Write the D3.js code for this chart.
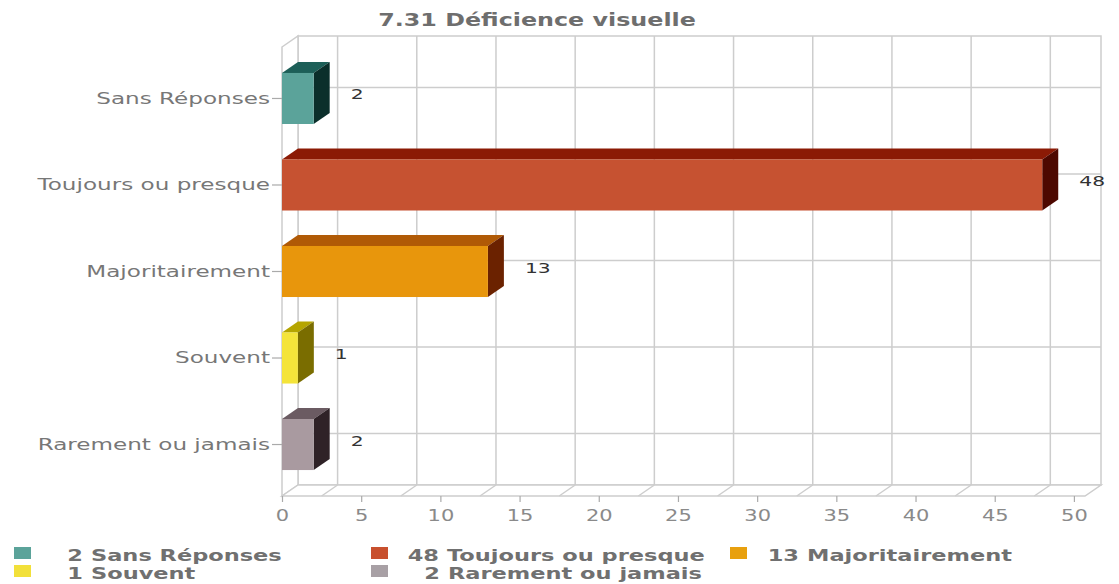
<!DOCTYPE html>
<html>
<head>
<meta charset="utf-8">
<script src="https://cdn.jsdelivr.net/npm/d3@7/dist/d3.min.js"></script>
<style>
  body { margin: 0; background: #fff; }
  svg { display: block; font-family: "DejaVu Sans", Verdana, sans-serif; }
</style>
</head>
<body>
<script>
// chart data
const categories = ['Sans Réponses', 'Toujours ou presque', 'Majoritairement', 'Souvent', 'Rarement ou jamais'];
const values = [2, 48, 13, 1, 2];
const xTicks = [0, 5, 10, 15, 20, 25, 30, 35, 40, 45, 50];
const gridValues = [2.5, 7.5, 12.5, 17.5, 22.5, 27.5, 32.5, 37.5, 42.5, 47.5];
const title = '7.31 Déficience visuelle';

// colours per bar: front, top, side
const frontColors = ['#5ba39a', '#c65231', '#e8960c', '#f4e43a', '#a99aa0'];
const topColors = ['#1d5f58', '#8b1a05', '#b05a06', '#b5a500', '#6b5b62'];
const sideColors = ['#0b2f2b', '#4d0800', '#6b2200', '#7a6d00', '#2f2227'];
const legendColors = ['#5ba39a', '#c8502e', '#e8a00e', '#f2e03a', '#a8a0a5'];

const W = 1119, H = 584;
const SX = 1.4; // the picture is stretched sideways
const DX = 16, DY = -11; // 3d depth

const svg = d3.select('body').append('svg').attr('width', W).attr('height', H);

const x = d3.scaleLinear().domain([0, 50.7]).range([282, 1085]);
const y = d3.scaleBand().domain(categories).range([47, 496])
    .paddingInner(0.41).paddingOuter(0.3);
const yTop = 47, yBottom = 496;

// title
svg.append('text')
    .attr('transform', `translate(537,26) scale(${SX},1)`)
    .attr('text-anchor', 'middle')
    .attr('font-size', 17)
    .attr('font-weight', 'bold')
    .attr('fill', '#6e6e6e')
    .text(title);

const gridColor = '#cdcdcd';

// back wall
svg.append('rect')
    .attr('x', x(0) + DX).attr('y', yTop + DY)
    .attr('width', x(50.7) - x(0)).attr('height', yBottom - yTop)
    .attr('fill', '#fff').attr('stroke', gridColor).attr('stroke-width', 1.5);

// left wall
svg.append('path')
    .attr('d', `M${x(0)},${yTop}L${x(0) + DX},${yTop + DY}L${x(0) + DX},${yBottom + DY}L${x(0)},${yBottom}Z`)
    .attr('fill', '#fff').attr('stroke', gridColor).attr('stroke-width', 1.5);

// floor
svg.append('path')
    .attr('d', `M${x(0)},${yBottom}L${x(50.7)},${yBottom}L${x(50.7) + DX},${yBottom + DY}L${x(0) + DX},${yBottom + DY}Z`)
    .attr('fill', '#fff').attr('stroke', gridColor).attr('stroke-width', 1.5);

// vertical grid lines on back wall + floor diagonals
svg.append('g').selectAll('line').data(gridValues).join('line')
    .attr('x1', d => x(d) + DX).attr('x2', d => x(d) + DX)
    .attr('y1', yTop + DY).attr('y2', yBottom + DY)
    .attr('stroke', gridColor).attr('stroke-width', 1.5);
svg.append('g').selectAll('line').data(gridValues).join('line')
    .attr('x1', d => x(d)).attr('x2', d => x(d) + DX)
    .attr('y1', yBottom).attr('y2', yBottom + DY)
    .attr('stroke', gridColor).attr('stroke-width', 1.5);

// horizontal grid lines on back wall
svg.append('g').selectAll('line').data(categories).join('line')
    .attr('x1', x(0) + DX).attr('x2', x(50.7) + DX)
    .attr('y1', d => y(d) + y.bandwidth() / 2 + DY)
    .attr('y2', d => y(d) + y.bandwidth() / 2 + DY)
    .attr('stroke', gridColor).attr('stroke-width', 1.5);

// bars
const bars = svg.append('g').selectAll('g').data(categories).join('g');
bars.append('path')
    .attr('d', (d, i) => {
      const x0 = x(0), x1 = x(values[i]), t = y(d);
      return `M${x0},${t}L${x0 + DX},${t + DY}L${x1 + DX},${t + DY}L${x1},${t}Z`;
    })
    .attr('fill', (d, i) => topColors[i]);
bars.append('path')
    .attr('d', (d, i) => {
      const x1 = x(values[i]), t = y(d), b = y(d) + y.bandwidth();
      return `M${x1},${t}L${x1 + DX},${t + DY}L${x1 + DX},${b + DY}L${x1},${b}Z`;
    })
    .attr('fill', (d, i) => sideColors[i]);
bars.append('rect')
    .attr('x', x(0))
    .attr('y', d => y(d))
    .attr('width', (d, i) => x(values[i]) - x(0))
    .attr('height', y.bandwidth())
    .attr('fill', (d, i) => frontColors[i]);

// value labels
bars.append('text')
    .attr('transform', (d, i) => `translate(${x(values[i]) + 37},${y(d) + y.bandwidth() / 2 + 1}) scale(${SX},1)`)
    .attr('font-size', 14.5)
    .attr('fill', '#333')
    .text((d, i) => values[i]);

// x axis
const xAxis = svg.append('g')
    .attr('transform', `translate(0,${yBottom})`)
    .call(d3.axisBottom(x).tickValues(xTicks).tickSize(6).tickPadding(8));
xAxis.select('.domain').remove();
xAxis.selectAll('line').attr('stroke', '#aaa').attr('stroke-width', 1.2);
xAxis.selectAll('text')
    .attr('font-size', 15)
    .attr('font-family', '"DejaVu Sans", Verdana, sans-serif')
    .attr('fill', '#8a8a8a')
    .attr('transform', `scale(${SX},1)`);

// category axis
const yAxis = svg.append('g')
    .attr('transform', `translate(${x(0)},0)`)
    .call(d3.axisLeft(y).tickSize(10).tickPadding(0));
yAxis.select('.domain').remove();
yAxis.selectAll('line').attr('stroke', '#aaa').attr('stroke-width', 1.2);
yAxis.selectAll('text')
    .attr('x', -12 / SX)
    .attr('font-size', 16.5)
    .attr('font-family', '"DejaVu Sans", Verdana, sans-serif')
    .attr('fill', '#777')
    .attr('transform', `scale(${SX},1)`);

// legend (two tight rows)
const LSX = 1.5;
const legendPos = [
  { sx: 14, nx: 83, ty: 561 },
  { sx: 371, nx: 439, ty: 561 },
  { sx: 730, nx: 799, ty: 561 },
  { sx: 14, nx: 83, ty: 579 },
  { sx: 371, nx: 440, ty: 579 },
];
const legend = svg.append('g').selectAll('g').data(categories).join('g')
    .attr('font-size', 15).attr('font-weight', 'bold').attr('fill', '#707070');
legend.append('rect')
    .attr('x', (d, i) => legendPos[i].sx)
    .attr('y', (d, i) => legendPos[i].ty - 14)
    .attr('width', 17).attr('height', 12)
    .attr('fill', (d, i) => legendColors[i]);
legend.append('text')
    .attr('transform', (d, i) => `translate(${legendPos[i].nx},${legendPos[i].ty}) scale(${LSX},1)`)
    .attr('text-anchor', 'end')
    .text((d, i) => values[i]);
legend.append('text')
    .attr('transform', (d, i) => `translate(${legendPos[i].nx + 8},${legendPos[i].ty}) scale(${LSX},1)`)
    .text(d => d);
</script>
</body>
</html>
